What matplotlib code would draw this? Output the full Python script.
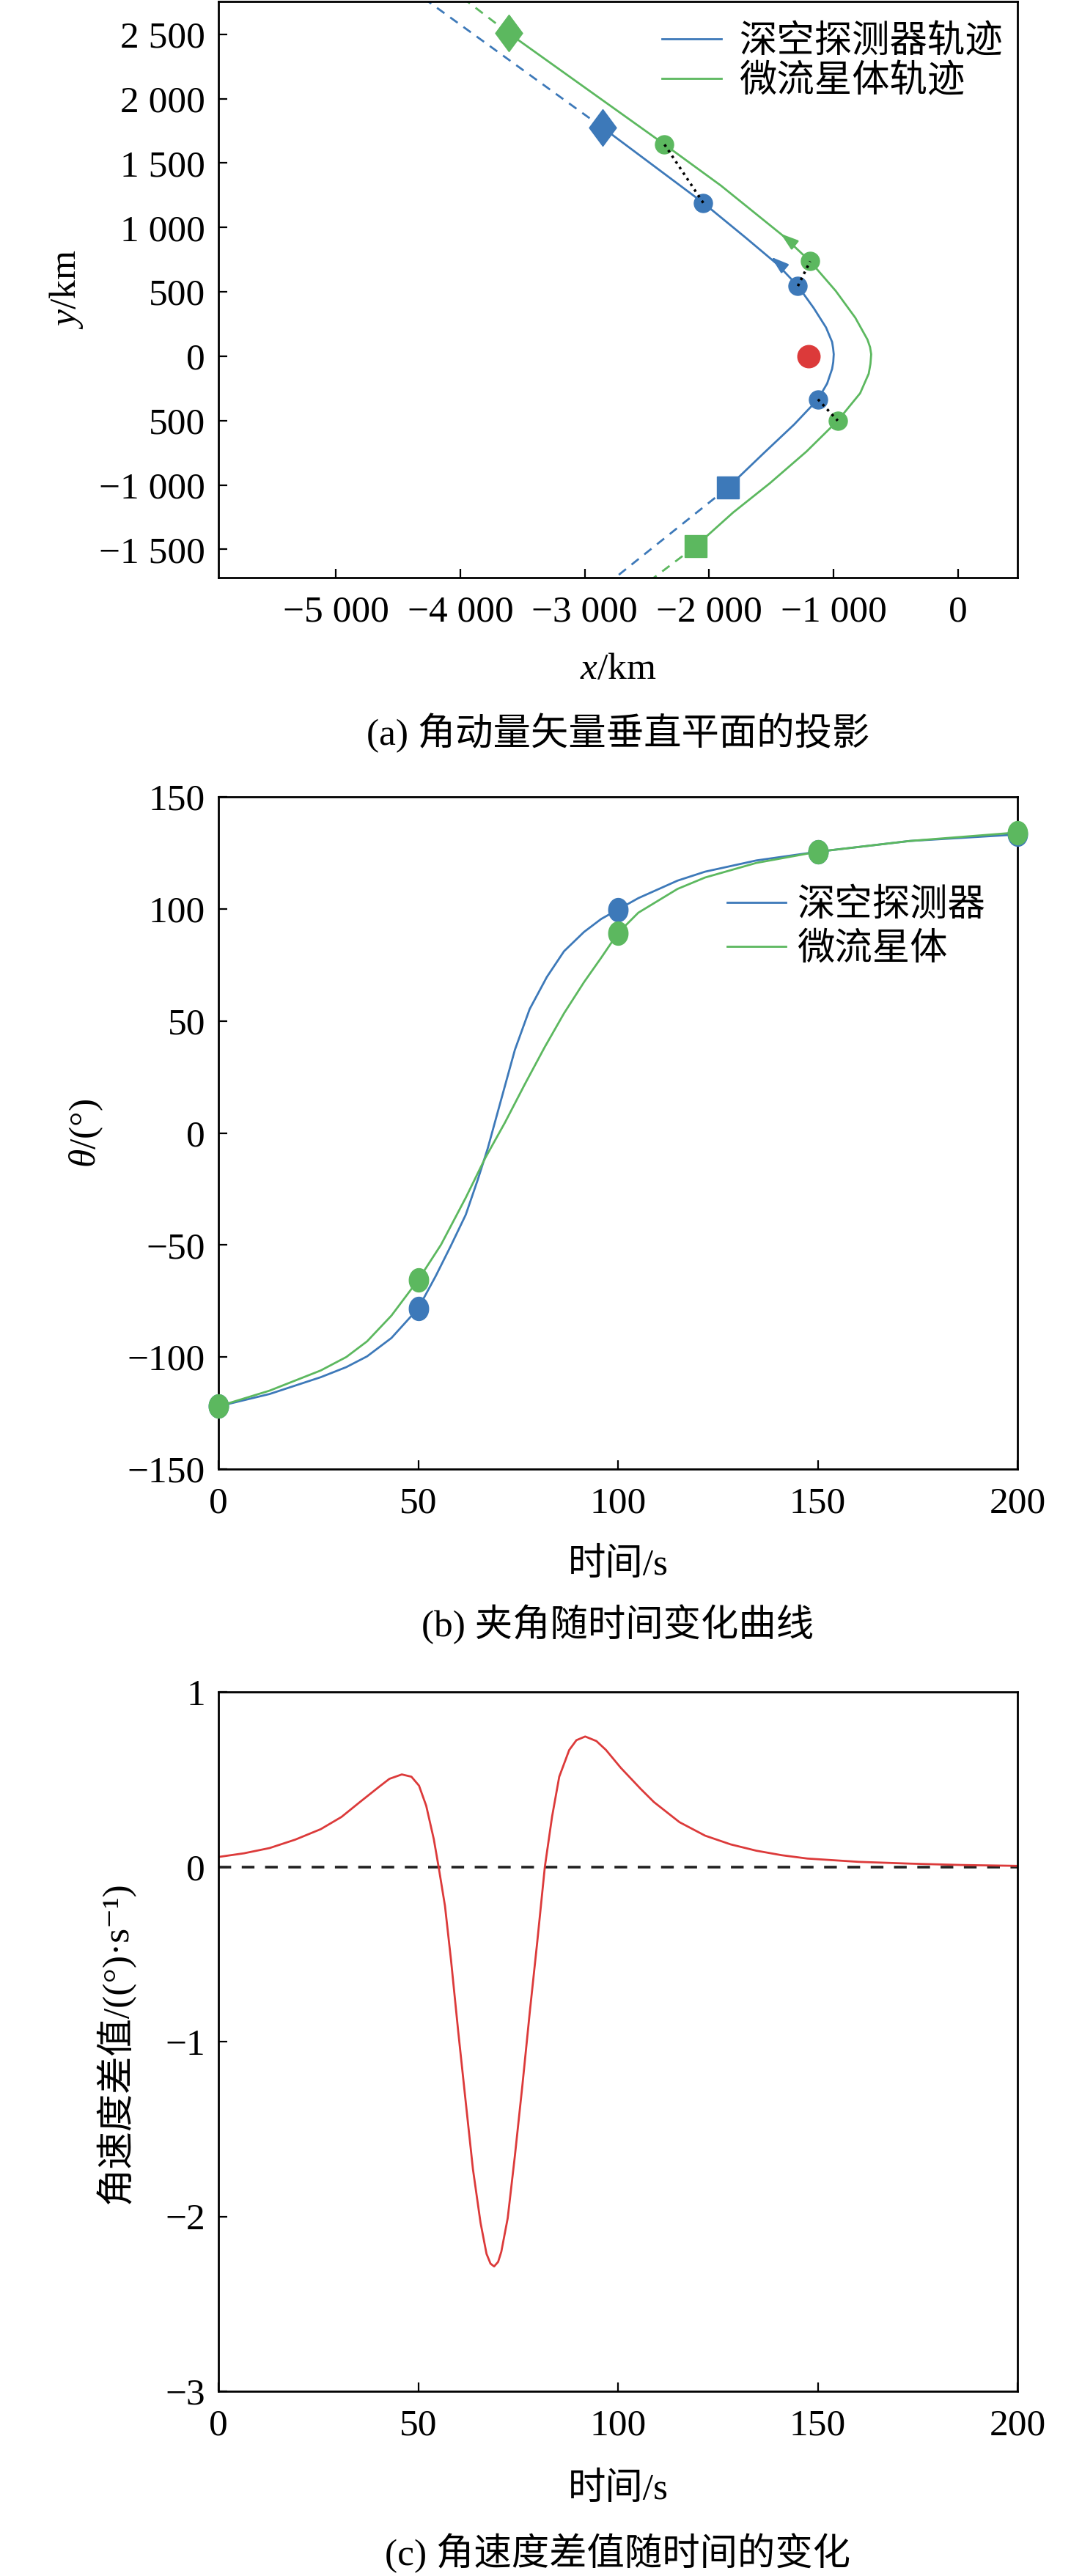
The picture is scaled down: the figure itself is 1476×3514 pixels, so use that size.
import numpy as np
import matplotlib
matplotlib.use('Agg')
import matplotlib.pyplot as plt

plt.rcParams['font.family'] = ['Liberation Serif', 'Noto Sans CJK SC', 'DejaVu Serif']
plt.rcParams['mathtext.fontset'] = 'custom'
plt.rcParams['mathtext.rm'] = 'Liberation Serif'
plt.rcParams['mathtext.it'] = 'Liberation Serif:italic'

BLUE = '#3d79b9'
GREEN = '#5cb85f'
RED = '#dc3a3a'
FS = 37
W, H = 1476, 3514

# ---------- (a) 投影轨迹 (km) ----------
probe_x = [-2855, -2048, -1710, -1454, -1287, -1160, -1061, -1012, -1004, -999, -1003, -1012, -1052, -1126,
           -1317, -1553, -1851]
probe_y = [1774, 1191, 923, 715, 545, 374, 223, 110, 60, 15, -45, -98, -212, -335, -530, -745, -1021]
meteor_x = [-3612, -2360, -1906, -1415, -1189, -983, -826, -728, -707, -698, -704, -718, -787, -967, -1219,
            -1513, -1808, -2110]
meteor_y = [2509, 1645, 1325, 942, 737, 507, 299, 129, 70, 15, -60, -136, -288, -501, -741, -987, -1214, -1476]

probe_dash_top = ([-2855, -4262], [1774, 2757])
probe_dash_bot = ([-1851, -2789], [-1021, -1746])
meteor_dash_top = ([-3612, -3947], [2509, 2757])
meteor_dash_bot = ([-2110, -2480], [-1476, -1746])

probe_pts_x = [-2048, -1287, -1126]
probe_pts_y = [1191, 545, -335]
meteor_pts_x = [-2360, -1189, -967]
meteor_pts_y = [1645, 737, -501]

probe_start = (-2855, 1774)
probe_end = (-1851, -1021)
meteor_start = (-3612, 2509)
meteor_end = (-2110, -1476)
body_xy = (-1200, 0)

# 方向箭头 (尾, 头)
probe_arrow = ((-1470, 744), (-1503, 771))
meteor_arrow = ((-1390, 924), (-1425, 951))

xticks_a = [-5000, -4000, -3000, -2000, -1000, 0]
xlabels_a = ['\u22125 000', '\u22124 000', '\u22123 000', '\u22122 000', '\u22121 000', '0']
yticks_a = [2500, 2000, 1500, 1000, 500, 0, -500, -1000, -1500]
ylabels_a = ['2 500', '2 000', '1 500', '1 000', '500', '0', '500', '\u22121 000', '\u22121 500']

# ---------- (b) 夹角 ----------
t_probe = [0, 12.8, 25.6, 32, 37.2, 43.3, 50, 54.4, 58.1, 61.9, 64.9, 67.4, 70.5, 74.2, 77.9, 82.2, 86.5,
           91.5, 95.8, 100, 105.1, 114.9, 121.8, 134.6, 150, 173, 200]
theta_probe = [-122, -116.5, -109, -104.5, -99.7, -91.5, -78.3, -63.8, -50.6, -36.5, -20.9, -6.9, 13.2, 37.1,
               55.3, 69.6, 81.1, 89.7, 95.5, 99.7, 104.8, 112.6, 116.6, 121.6, 125.5, 130.3, 133.2]
t_meteor = [0, 12.8, 25.6, 32, 37.2, 43.3, 50, 55.7, 61.9, 66.8, 71.7, 76.7, 81.6, 86.5, 91.5, 95.8, 100,
            105.1, 114.9, 121.8, 134.6, 150, 173, 200]
theta_meteor = [-122, -115, -106, -100, -93, -81.5, -65.6, -49.9, -28.9, -11.1, 4.6, 21.8, 38.1, 53.4, 67.3,
                78.2, 89.2, 98.3, 108.9, 114.0, 120.5, 125.5, 130.3, 134.1]
t_mark = [0, 50, 100, 150, 200]
theta_probe_mark = [-122, -78.3, 99.7, 125.5, 133.2]
theta_meteor_mark = [-122, -65.6, 89.2, 125.5, 134.1]

# ---------- (c) 角速度差值 ----------
t_c = [0, 6.4, 12.8, 19.2, 25.6, 30.8, 35.4, 40.3, 42.8, 45.9, 48.3, 50.2, 52.0, 53.9, 55.1, 56.7, 58.2,
       60.0, 61.9, 63.7, 65.6, 67.1, 68.1, 69.0, 70.0, 70.8, 72.4, 74.2, 76.1, 77.9, 79.8, 81.7, 83.5, 85.3,
       87.8, 89.6, 91.8, 94.6, 97.0, 100.7, 105.7, 109, 115.4, 121.8, 128.2, 134.6, 141, 147.4, 160.3,
       173, 186, 200]
dw = [0.056, 0.077, 0.107, 0.155, 0.215, 0.285, 0.37, 0.459, 0.503, 0.528, 0.515, 0.464, 0.349, 0.158, 0.0,
      -0.224, -0.531, -0.939, -1.347, -1.73, -2.036, -2.214, -2.27, -2.286, -2.26, -2.202, -2.01, -1.653,
      -1.245, -0.837, -0.429, 0.0, 0.286, 0.515, 0.668, 0.724, 0.745, 0.719, 0.668, 0.566, 0.445, 0.37,
      0.255, 0.178, 0.128, 0.092, 0.066, 0.047, 0.028, 0.018, 0.01, 0.005]


def px_box(left, top, right, bottom):
    return [left / W, 1 - bottom / H, (right - left) / W, (bottom - top) / H]


def style(ax):
    for s in ax.spines.values():
        s.set_linewidth(2)
    ax.tick_params(direction='in', length=8.5, width=1.6, labelsize=FS, top=False, right=False)
    ax.tick_params(axis='x', pad=17)
    ax.tick_params(axis='y', pad=13)


fig = plt.figure(figsize=(W / 100, H / 100), dpi=100)

tall_diamond = [(0, 1), (0.74, 0), (0, -1), (-0.74, 0), (0, 1)]
ang = np.linspace(0, 2 * np.pi, 48)
oval = list(zip(0.83 * np.cos(ang), np.sin(ang)))

# (a)
ax1 = fig.add_axes(px_box(298, 2, 1388, 788))
style(ax1)
dash = (0, (4.5, 3.5))
ax1.plot(*probe_dash_top, color=BLUE, lw=2, ls=dash)
ax1.plot(*probe_dash_bot, color=BLUE, lw=2, ls=dash)
ax1.plot(*meteor_dash_top, color=GREEN, lw=2, ls=dash)
ax1.plot(*meteor_dash_bot, color=GREEN, lw=2, ls=dash)
ax1.plot(probe_x, probe_y, color=BLUE, lw=2, label='深空探测器轨迹')
ax1.plot(meteor_x, meteor_y, color=GREEN, lw=2, label='微流星体轨迹')
ax1.plot(*probe_start, marker=tall_diamond, ms=36, color=BLUE, ls='none')
ax1.plot(*meteor_start, marker=tall_diamond, ms=36, color=GREEN, ls='none')
ax1.plot(*probe_end, marker='s', ms=21.5, color=BLUE, ls='none')
ax1.plot(*meteor_end, marker='s', ms=21.5, color=GREEN, ls='none')
ax1.plot(probe_pts_x, probe_pts_y, 'o', ms=18, color=BLUE)
ax1.plot(meteor_pts_x, meteor_pts_y, 'o', ms=18, color=GREEN)
ax1.plot(*body_xy, 'o', ms=22, color=RED)
for px_, py_, mx_, my_ in zip(probe_pts_x, probe_pts_y, meteor_pts_x, meteor_pts_y):
    ax1.plot([px_, mx_], [py_, my_], color='black', ls=':', lw=2.5, zorder=5)
for (tail, head), c in [(probe_arrow, BLUE), (meteor_arrow, GREEN)]:
    ax1.annotate('', xy=head, xytext=tail,
                 arrowprops=dict(arrowstyle='-|>,head_length=0.55,head_width=0.18', color=c, lw=2,
                                 mutation_scale=26, shrinkA=0, shrinkB=0))
ax1.set_xlim(-5945, 478)
ax1.set_ylim(-1720, 2755)
ax1.set_xticks(xticks_a, xlabels_a)
ax1.set_yticks(yticks_a, ylabels_a)
ax1.set_xlabel('$x$/km', fontsize=FS, va='center')
ax1.set_ylabel('$y$/km', fontsize=FS, va='center')
ax1.xaxis.set_label_coords(843 / W, 1 - 914 / H, transform=fig.transFigure)
ax1.yaxis.set_label_coords(90 / W, 1 - 395 / H, transform=fig.transFigure)
ax1.legend(loc='center left', bbox_to_anchor=(903 / W, 1 - 85 / H), bbox_transform=fig.transFigure,
           frameon=False, fontsize=FS, borderpad=0, borderaxespad=0,
           handlelength=1.58, handletextpad=0.47, labelspacing=0.12)
fig.text(843 / W, 1 - 1000 / H, '(a) 角动量矢量垂直平面的投影', fontsize=FS, ha='center', va='center')

# (b)
ax2 = fig.add_axes(px_box(298, 1087, 1388, 2004))
style(ax2)
ax2.plot(t_probe, theta_probe, color=BLUE, lw=2, label='深空探测器')
ax2.plot(t_meteor, theta_meteor, color=GREEN, lw=2, label='微流星体')
ax2.plot(t_mark, theta_probe_mark, ls='none', marker=oval, ms=23, color=BLUE, clip_on=False, zorder=4)
ax2.plot(t_mark, theta_meteor_mark, ls='none', marker=oval, ms=23, color=GREEN, clip_on=False, zorder=4)
ax2.set_xlim(0, 200)
ax2.set_ylim(-150, 150)
ax2.set_xticks([0, 50, 100, 150, 200])
ax2.set_yticks([-150, -100, -50, 0, 50, 100, 150])
ax2.set_xlabel('时间/s', fontsize=FS, va='center')
ax2.set_ylabel('$\\theta$/(°)', fontsize=FS, va='center')
ax2.xaxis.set_label_coords(843 / W, 1 - 2135 / H, transform=fig.transFigure)
ax2.yaxis.set_label_coords(118 / W, 1 - 1546 / H, transform=fig.transFigure)
ax2.legend(loc='center left', bbox_to_anchor=(992 / W, 1 - 1266 / H), bbox_transform=fig.transFigure,
           frameon=False, fontsize=FS, borderpad=0, borderaxespad=0,
           handlelength=1.55, handletextpad=0.31, labelspacing=0.25)
fig.text(843 / W, 1 - 2216 / H, '(b) 夹角随时间变化曲线', fontsize=FS, ha='center', va='center')

# (c)
ax3 = fig.add_axes(px_box(298, 2308, 1388, 3262))
style(ax3)
ax3.axhline(0, color='#222222', lw=2.6, ls=(0, (4.8, 4)))
ax3.plot(t_c, dw, color=RED, lw=2)
ax3.set_xlim(0, 200)
ax3.set_ylim(-3, 1)
ax3.set_xticks([0, 50, 100, 150, 200])
ax3.set_yticks([-3, -2, -1, 0, 1])
ax3.set_xlabel('时间/s', fontsize=FS, va='center')
ax3.set_ylabel('角速度差值/((°)·s⁻¹)', fontsize=FS, va='center')
ax3.xaxis.set_label_coords(843 / W, 1 - 3396 / H, transform=fig.transFigure)
ax3.yaxis.set_label_coords(157 / W, 1 - 2787 / H, transform=fig.transFigure)
fig.text(843 / W, 1 - 3483 / H, '(c) 角速度差值随时间的变化', fontsize=FS, ha='center', va='center')

fig.savefig('out.png', dpi=100)
